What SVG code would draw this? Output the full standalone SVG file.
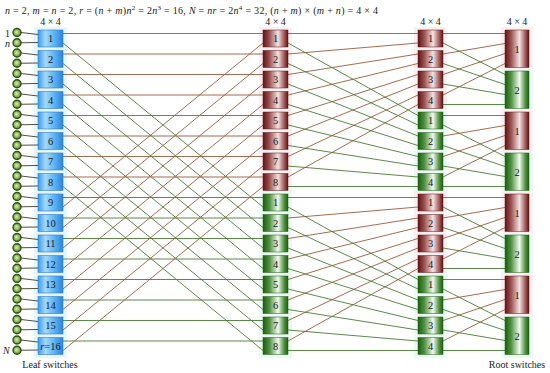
<svg xmlns="http://www.w3.org/2000/svg" width="550" height="373" viewBox="0 0 550 373">
<defs>
<linearGradient id="gb" x1="0" y1="0" x2="1" y2="0">
<stop offset="0" stop-color="#3d9be9"/><stop offset="0.3" stop-color="#a3d8fb"/><stop offset="0.65" stop-color="#5cb4f4"/><stop offset="1" stop-color="#2d84d8"/>
</linearGradient>
<linearGradient id="gr" x1="0" y1="0" x2="1" y2="0">
<stop offset="0" stop-color="#5e1414"/><stop offset="0.25" stop-color="#9a5050"/><stop offset="0.6" stop-color="#f5e2e2"/><stop offset="0.85" stop-color="#a05a5a"/><stop offset="1" stop-color="#5a1212"/>
</linearGradient>
<linearGradient id="gg" x1="0" y1="0" x2="1" y2="0">
<stop offset="0" stop-color="#1f5e12"/><stop offset="0.25" stop-color="#4f8f40"/><stop offset="0.6" stop-color="#f2faef"/><stop offset="0.85" stop-color="#4f8f40"/><stop offset="1" stop-color="#1f5e12"/>
</linearGradient>
<radialGradient id="gc" cx="0.45" cy="0.45" r="0.6">
<stop offset="0" stop-color="#d8ecb8"/><stop offset="0.6" stop-color="#8ab25a"/><stop offset="1" stop-color="#4a7a20"/>
</radialGradient>
</defs>
<style>
text{font-family:"Liberation Serif","DejaVu Serif",serif;fill:#1a1a1a}
.n{font-size:10.5px;text-anchor:middle}
.t{font-size:10px;text-anchor:middle}
.i{font-style:italic}
.lf{fill:url(#gb);stroke:#3a7ac0;stroke-width:0.6}
.rd{fill:url(#gr);stroke:#5a1818;stroke-width:0.5}
.gn{fill:url(#gg);stroke:#1f5a14;stroke-width:0.5}
.c{fill:url(#gc);stroke:#2e5212;stroke-width:1.4}
.b{stroke:#9c5a3c;stroke-width:0.9;fill:none}
.g{stroke:#4a7a36;stroke-width:0.9;fill:none}
.k{stroke:#3a3a2a;stroke-width:0.9;fill:none}
.hb{fill:#e4f7fd}
.hr{fill:#fdeef1}
.hg{fill:#ecfbf1}
</style>
<rect width="550" height="373" fill="#ffffff"/>
<g id="halos">
<rect class="hb" x="34" y="27" width="33" height="331"/>
<rect class="hr" x="259" y="27" width="33" height="164"/>
<rect class="hg" x="259" y="191" width="33" height="167"/>
<rect class="hr" x="414" y="27" width="33" height="82"/>
<rect class="hg" x="414" y="109" width="33" height="82"/>
<rect class="hr" x="414" y="191" width="33" height="82"/>
<rect class="hg" x="414" y="273" width="33" height="85"/>
<rect class="hr" x="501" y="27" width="32" height="42"/>
<rect class="hg" x="501" y="69" width="32" height="41"/>
<rect class="hr" x="501" y="110" width="32" height="41"/>
<rect class="hg" x="501" y="151" width="32" height="41"/>
<rect class="hr" x="501" y="192" width="32" height="41"/>
<rect class="hg" x="501" y="233" width="32" height="41"/>
<rect class="hr" x="501" y="274" width="32" height="41"/>
<rect class="hg" x="501" y="315" width="32" height="43"/>
</g>
<g id="labels">
<text x="5" y="14" font-size="10" textLength="373" lengthAdjust="spacing"><tspan class="i">n</tspan> = 2, <tspan class="i">m</tspan> = <tspan class="i">n</tspan> = 2, <tspan class="i">r</tspan> = (<tspan class="i">n</tspan> + <tspan class="i">m</tspan>)<tspan class="i">n</tspan><tspan font-size="7" dy="-4">2</tspan><tspan dy="4"> = 2</tspan><tspan class="i">n</tspan><tspan font-size="7" dy="-4">3</tspan><tspan dy="4"> = 16, </tspan><tspan class="i">N</tspan> = <tspan class="i">nr</tspan> = 2<tspan class="i">n</tspan><tspan font-size="7" dy="-4">4</tspan><tspan dy="4"> = 32, (</tspan><tspan class="i">n</tspan> + <tspan class="i">m</tspan>) × (<tspan class="i">m</tspan> + <tspan class="i">n</tspan>) = 4 × 4</text>
<text class="t" x="50.5" y="25">4 × 4</text>
<text class="t" x="275.5" y="25">4 × 4</text>
<text class="t" x="430.5" y="25">4 × 4</text>
<text class="t" x="517" y="25">4 × 4</text>
<text x="5" y="37" font-size="10">1</text>
<text x="5" y="47" font-size="10" class="i">n</text>
<text x="3" y="354" font-size="10" class="i">N</text>
<text class="t" x="50" y="368">Leaf switches</text>
<text class="t" x="517" y="368">Root switches</text>
</g>
<g id="connectors">
<path class="k" d="M21 32.5L38 34.5M21 42.75L38 42.5M21 53L38 55M21 63.25L38 63M21 73.5L38 75.5M21 83.75L38 83.5M21 94L38 96M21 104.25L38 104M21 114.5L38 116.5M21 124.75L38 124.5M21 135L38 137M21 145.25L38 145M21 155.5L38 157.5M21 165.75L38 165.5M21 176L38 178M21 186.25L38 186M21 196.5L38 198.5M21 206.75L38 206.5M21 217L38 219M21 227.25L38 227M21 237.5L38 239.5M21 247.75L38 247.5M21 258L38 260M21 268.25L38 268M21 278.5L38 280.5M21 288.75L38 288.5M21 299L38 301M21 309.25L38 309M21 319.5L38 321.5M21 329.75L38 329.5M21 340L38 342M21 350.25L38 350"/>
<path class="b" d="M63 33.5H263M63 54H263M63 74.5H263M63 95H263M63 115.5H263M63 136H263M63 156.5H263M63 177H263"/>
<path class="g" d="M63 197.5H263M63 218H263M63 238.5H263M63 259H263M63 279.5H263M63 300H263M63 320.5H263M63 341H263"/>
<path class="g" d="M63 43L263 207M63 63.5L263 227.5M63 84L263 248M63 104.5L263 268.5M63 125L263 289M63 145.5L263 309.5M63 166L263 330M63 186.5L263 350.5"/>
<path class="b" d="M63 207L263 43M63 227.5L263 63.5M63 248L263 84M63 268.5L263 104.5M63 289L263 125M63 309.5L263 145.5M63 330L263 166M63 350.5L263 186.5"/>
<path class="b" d="M288 33.5L418 33.5M288 54L418 43M288 74.5L418 54M288 95L418 63.5M288 115.5L418 74.5M288 136L418 84M288 156.5L418 95M288 177L418 104.5M288 197.5L418 197.5M288 218L418 207M288 238.5L418 218M288 259L418 227.5M288 279.5L418 238.5M288 300L418 248M288 320.5L418 259M288 341L418 268.5"/>
<path class="g" d="M288 43L418 115.5M288 63.5L418 125M288 84L418 136M288 104.5L418 145.5M288 125L418 156.5M288 145.5L418 166M288 166L418 177M288 186.5L418 186.5M288 207L418 279.5M288 227.5L418 289M288 248L418 300M288 268.5L418 309.5M288 289L418 320.5M288 309.5L418 330M288 330L418 341M288 350.5L418 350.5"/>
<path class="b" d="M443 33.5L505 33.5M443 54L505 43.5M443 74.5L505 53.5M443 95L505 63.5M443 115.5L505 115.5M443 136L505 125.5M443 156.5L505 135.5M443 177L505 145.5M443 197.5L505 197.5M443 218L505 207.5M443 238.5L505 217.5M443 259L505 227.5M443 279.5L505 279.5M443 300L505 289.5M443 320.5L505 299.5M443 341L505 309.5"/>
<path class="g" d="M443 43L505 74.5M443 63.5L505 84.5M443 84L505 94.5M443 104.5L505 104.5M443 125L505 156.5M443 145.5L505 166.5M443 166L505 176.5M443 186.5L505 186.5M443 207L505 238.5M443 227.5L505 248.5M443 248L505 258.5M443 268.5L505 268.5M443 289L505 320.5M443 309.5L505 330.5M443 330L505 340.5M443 350.5L505 350.5"/>
</g>
<g id="hosts">
<g id="h1"><circle class="c" cx="17" cy="32.5" r="4"/></g>
<g id="h2"><circle class="c" cx="17" cy="42.75" r="4"/></g>
<g id="h3"><circle class="c" cx="17" cy="53" r="4"/></g>
<g id="h4"><circle class="c" cx="17" cy="63.25" r="4"/></g>
<g id="h5"><circle class="c" cx="17" cy="73.5" r="4"/></g>
<g id="h6"><circle class="c" cx="17" cy="83.75" r="4"/></g>
<g id="h7"><circle class="c" cx="17" cy="94" r="4"/></g>
<g id="h8"><circle class="c" cx="17" cy="104.25" r="4"/></g>
<g id="h9"><circle class="c" cx="17" cy="114.5" r="4"/></g>
<g id="h10"><circle class="c" cx="17" cy="124.75" r="4"/></g>
<g id="h11"><circle class="c" cx="17" cy="135" r="4"/></g>
<g id="h12"><circle class="c" cx="17" cy="145.25" r="4"/></g>
<g id="h13"><circle class="c" cx="17" cy="155.5" r="4"/></g>
<g id="h14"><circle class="c" cx="17" cy="165.75" r="4"/></g>
<g id="h15"><circle class="c" cx="17" cy="176" r="4"/></g>
<g id="h16"><circle class="c" cx="17" cy="186.25" r="4"/></g>
<g id="h17"><circle class="c" cx="17" cy="196.5" r="4"/></g>
<g id="h18"><circle class="c" cx="17" cy="206.75" r="4"/></g>
<g id="h19"><circle class="c" cx="17" cy="217" r="4"/></g>
<g id="h20"><circle class="c" cx="17" cy="227.25" r="4"/></g>
<g id="h21"><circle class="c" cx="17" cy="237.5" r="4"/></g>
<g id="h22"><circle class="c" cx="17" cy="247.75" r="4"/></g>
<g id="h23"><circle class="c" cx="17" cy="258" r="4"/></g>
<g id="h24"><circle class="c" cx="17" cy="268.25" r="4"/></g>
<g id="h25"><circle class="c" cx="17" cy="278.5" r="4"/></g>
<g id="h26"><circle class="c" cx="17" cy="288.75" r="4"/></g>
<g id="h27"><circle class="c" cx="17" cy="299" r="4"/></g>
<g id="h28"><circle class="c" cx="17" cy="309.25" r="4"/></g>
<g id="h29"><circle class="c" cx="17" cy="319.5" r="4"/></g>
<g id="h30"><circle class="c" cx="17" cy="329.75" r="4"/></g>
<g id="h31"><circle class="c" cx="17" cy="340" r="4"/></g>
<g id="h32"><circle class="c" cx="17" cy="350.25" r="4"/></g>
</g>
<g id="leaves">
<g id="leaf1"><rect class="lf" x="38" y="30" width="25" height="17"/><text class="n" x="50.5" y="42">1</text></g>
<g id="leaf2"><rect class="lf" x="38" y="50.5" width="25" height="17"/><text class="n" x="50.5" y="62.5">2</text></g>
<g id="leaf3"><rect class="lf" x="38" y="71" width="25" height="17"/><text class="n" x="50.5" y="83">3</text></g>
<g id="leaf4"><rect class="lf" x="38" y="91.5" width="25" height="17"/><text class="n" x="50.5" y="103.5">4</text></g>
<g id="leaf5"><rect class="lf" x="38" y="112" width="25" height="17"/><text class="n" x="50.5" y="124">5</text></g>
<g id="leaf6"><rect class="lf" x="38" y="132.5" width="25" height="17"/><text class="n" x="50.5" y="144.5">6</text></g>
<g id="leaf7"><rect class="lf" x="38" y="153" width="25" height="17"/><text class="n" x="50.5" y="165">7</text></g>
<g id="leaf8"><rect class="lf" x="38" y="173.5" width="25" height="17"/><text class="n" x="50.5" y="185.5">8</text></g>
<g id="leaf9"><rect class="lf" x="38" y="194" width="25" height="17"/><text class="n" x="50.5" y="206">9</text></g>
<g id="leaf10"><rect class="lf" x="38" y="214.5" width="25" height="17"/><text class="n" x="50.5" y="226.5">10</text></g>
<g id="leaf11"><rect class="lf" x="38" y="235" width="25" height="17"/><text class="n" x="50.5" y="247">11</text></g>
<g id="leaf12"><rect class="lf" x="38" y="255.5" width="25" height="17"/><text class="n" x="50.5" y="267.5">12</text></g>
<g id="leaf13"><rect class="lf" x="38" y="276" width="25" height="17"/><text class="n" x="50.5" y="288">13</text></g>
<g id="leaf14"><rect class="lf" x="38" y="296.5" width="25" height="17"/><text class="n" x="50.5" y="308.5">14</text></g>
<g id="leaf15"><rect class="lf" x="38" y="317" width="25" height="17"/><text class="n" x="50.5" y="329">15</text></g>
<g id="leaf16"><rect class="lf" x="38" y="337.5" width="25" height="17"/><text class="n" x="50.5" y="349.5"><tspan class="i">r</tspan>=16</text></g>
</g>
<g id="middle">
<g id="m1"><rect class="rd" x="263" y="30" width="25" height="17"/><text class="n" x="275.5" y="42">1</text></g>
<g id="m2"><rect class="rd" x="263" y="50.5" width="25" height="17"/><text class="n" x="275.5" y="62.5">2</text></g>
<g id="m3"><rect class="rd" x="263" y="71" width="25" height="17"/><text class="n" x="275.5" y="83">3</text></g>
<g id="m4"><rect class="rd" x="263" y="91.5" width="25" height="17"/><text class="n" x="275.5" y="103.5">4</text></g>
<g id="m5"><rect class="rd" x="263" y="112" width="25" height="17"/><text class="n" x="275.5" y="124">5</text></g>
<g id="m6"><rect class="rd" x="263" y="132.5" width="25" height="17"/><text class="n" x="275.5" y="144.5">6</text></g>
<g id="m7"><rect class="rd" x="263" y="153" width="25" height="17"/><text class="n" x="275.5" y="165">7</text></g>
<g id="m8"><rect class="rd" x="263" y="173.5" width="25" height="17"/><text class="n" x="275.5" y="185.5">8</text></g>
<g id="m9"><rect class="gn" x="263" y="194" width="25" height="17"/><text class="n" x="275.5" y="206">1</text></g>
<g id="m10"><rect class="gn" x="263" y="214.5" width="25" height="17"/><text class="n" x="275.5" y="226.5">2</text></g>
<g id="m11"><rect class="gn" x="263" y="235" width="25" height="17"/><text class="n" x="275.5" y="247">3</text></g>
<g id="m12"><rect class="gn" x="263" y="255.5" width="25" height="17"/><text class="n" x="275.5" y="267.5">4</text></g>
<g id="m13"><rect class="gn" x="263" y="276" width="25" height="17"/><text class="n" x="275.5" y="288">5</text></g>
<g id="m14"><rect class="gn" x="263" y="296.5" width="25" height="17"/><text class="n" x="275.5" y="308.5">6</text></g>
<g id="m15"><rect class="gn" x="263" y="317" width="25" height="17"/><text class="n" x="275.5" y="329">7</text></g>
<g id="m16"><rect class="gn" x="263" y="337.5" width="25" height="17"/><text class="n" x="275.5" y="349.5">8</text></g>
</g>
<g id="third">
<g id="s1"><rect class="rd" x="418" y="30" width="25" height="17"/><text class="n" x="430.5" y="42">1</text></g>
<g id="s2"><rect class="rd" x="418" y="50.5" width="25" height="17"/><text class="n" x="430.5" y="62.5">2</text></g>
<g id="s3"><rect class="rd" x="418" y="71" width="25" height="17"/><text class="n" x="430.5" y="83">3</text></g>
<g id="s4"><rect class="rd" x="418" y="91.5" width="25" height="17"/><text class="n" x="430.5" y="103.5">4</text></g>
<g id="s5"><rect class="gn" x="418" y="112" width="25" height="17"/><text class="n" x="430.5" y="124">1</text></g>
<g id="s6"><rect class="gn" x="418" y="132.5" width="25" height="17"/><text class="n" x="430.5" y="144.5">2</text></g>
<g id="s7"><rect class="gn" x="418" y="153" width="25" height="17"/><text class="n" x="430.5" y="165">3</text></g>
<g id="s8"><rect class="gn" x="418" y="173.5" width="25" height="17"/><text class="n" x="430.5" y="185.5">4</text></g>
<g id="s9"><rect class="rd" x="418" y="194" width="25" height="17"/><text class="n" x="430.5" y="206">1</text></g>
<g id="s10"><rect class="rd" x="418" y="214.5" width="25" height="17"/><text class="n" x="430.5" y="226.5">2</text></g>
<g id="s11"><rect class="rd" x="418" y="235" width="25" height="17"/><text class="n" x="430.5" y="247">3</text></g>
<g id="s12"><rect class="rd" x="418" y="255.5" width="25" height="17"/><text class="n" x="430.5" y="267.5">4</text></g>
<g id="s13"><rect class="gn" x="418" y="276" width="25" height="17"/><text class="n" x="430.5" y="288">1</text></g>
<g id="s14"><rect class="gn" x="418" y="296.5" width="25" height="17"/><text class="n" x="430.5" y="308.5">2</text></g>
<g id="s15"><rect class="gn" x="418" y="317" width="25" height="17"/><text class="n" x="430.5" y="329">3</text></g>
<g id="s16"><rect class="gn" x="418" y="337.5" width="25" height="17"/><text class="n" x="430.5" y="349.5">4</text></g>
</g>
<g id="roots">
<g id="r1"><rect class="rd" x="505" y="30" width="24" height="37.5"/><text class="n" x="517" y="52.5">1</text></g>
<g id="r2"><rect class="gn" x="505" y="71" width="24" height="37.5"/><text class="n" x="517" y="93.5">2</text></g>
<g id="r3"><rect class="rd" x="505" y="112" width="24" height="37.5"/><text class="n" x="517" y="134.5">1</text></g>
<g id="r4"><rect class="gn" x="505" y="153" width="24" height="37.5"/><text class="n" x="517" y="175.5">2</text></g>
<g id="r5"><rect class="rd" x="505" y="194" width="24" height="37.5"/><text class="n" x="517" y="216.5">1</text></g>
<g id="r6"><rect class="gn" x="505" y="235" width="24" height="37.5"/><text class="n" x="517" y="257.5">2</text></g>
<g id="r7"><rect class="rd" x="505" y="276" width="24" height="37.5"/><text class="n" x="517" y="298.5">1</text></g>
<g id="r8"><rect class="gn" x="505" y="317" width="24" height="37.5"/><text class="n" x="517" y="339.5">2</text></g>
</g>
</svg>
